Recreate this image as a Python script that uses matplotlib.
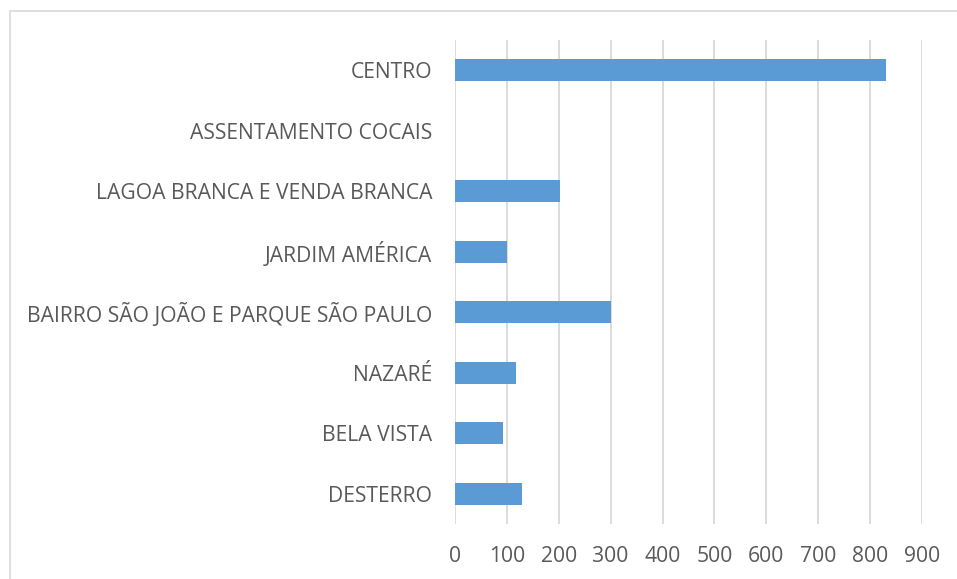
import matplotlib
matplotlib.use("Agg")
import matplotlib.pyplot as plt
from matplotlib.patches import Rectangle

# categories, top to bottom as shown in the chart
bairros = ["CENTRO", "ASSENTAMENTO COCAIS", "LAGOA BRANCA E VENDA BRANCA",
           "JARDIM AMÉRICA", "BAIRRO SÃO JOÃO E PARQUE SÃO PAULO",
           "NAZARÉ", "BELA VISTA", "DESTERRO"]
valores = [830, 0, 203, 100, 301, 118, 92, 129]
x_ticks = [0, 100, 200, 300, 400, 500, 600, 700, 800, 900]

text_color = "#595959"
grid_color = "#D9D9D9"
bar_color = "#5B9BD5"

plt.rcParams["font.family"] = ["Open Sans", "DejaVu Sans"]

fig = plt.figure(figsize=(9.57, 5.79), dpi=100)
ax = fig.add_axes([455 / 957, 1 - 524 / 579, (922 - 455) / 957, (524 - 40) / 579])

# chart area border
fig.patches.append(Rectangle((9.5 / 957, -0.1), 1.2, 1 - 11 / 579 + 0.1,
                             transform=fig.transFigure, fill=False,
                             edgecolor=grid_color, linewidth=1.2, zorder=0))

y_pos = list(range(len(bairros)))[::-1]
ax.barh(y_pos, valores, height=0.36, color=bar_color, zorder=3)

ax.set_xlim(0, 900)
ax.set_ylim(-0.5, len(bairros) - 0.5)
ax.set_xticks(x_ticks)
ax.set_yticks(y_pos)
ax.set_yticklabels(bairros)
ax.grid(axis="x", color=grid_color, linewidth=1.3, zorder=0)

for s in ax.spines.values():
    s.set_visible(False)
ax.tick_params(axis="both", length=0, labelsize=15.2, labelcolor=text_color)
ax.tick_params(axis="x", pad=16)
ax.tick_params(axis="y", pad=16.5)

fig.savefig("out.png", dpi=100)
